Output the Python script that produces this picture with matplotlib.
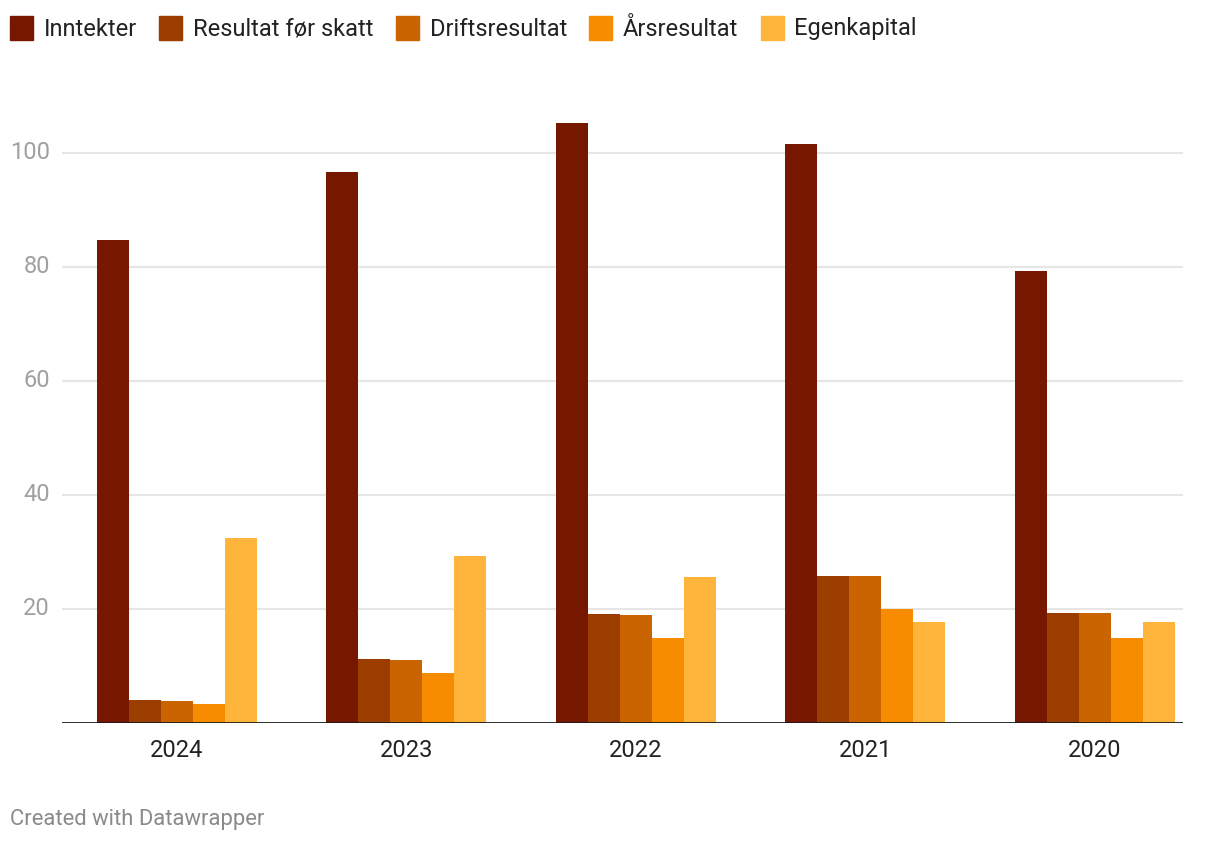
import matplotlib
matplotlib.use("Agg")
import matplotlib.pyplot as plt
from matplotlib.patches import Rectangle
import numpy as np

plt.rcParams['font.family'] = ['Roboto', 'DejaVu Sans']

years = ['2024', '2023', '2022', '2021', '2020']
series = ['Inntekter', 'Resultat før skatt', 'Driftsresultat', 'Årsresultat', 'Egenkapital']
colors = ['#761800', '#9c3d00', '#c96400', '#f88c00', '#ffb43c']

inntekter = [84.7, 96.7, 105.2, 101.5, 79.3]
resultat_for_skatt = [4.0, 11.1, 19.0, 25.7, 19.2]
driftsresultat = [3.7, 10.9, 18.8, 25.7, 19.2]
arsresultat = [3.2, 8.6, 14.8, 20.0, 14.9]
egenkapital = [32.3, 29.3, 25.5, 17.6, 17.6]
values = [inntekter, resultat_for_skatt, driftsresultat, arsresultat, egenkapital]

yticks = [20, 40, 60, 80, 100]

W, H = 1220, 844
fig = plt.figure(figsize=(W / 100, H / 100), dpi=100)

# axes placed in pixel coords: x 62..1183, y baseline 722.5, top ~96
ax_l, ax_r, ax_b, ax_t = 62, 1183, 722.5, 96
ax = fig.add_axes([ax_l / W, 1 - ax_b / H, (ax_r - ax_l) / W, (ax_b - ax_t) / H])

px_per_unit = 5.698
ax.set_ylim(0, (ax_b - ax_t) / px_per_unit)
ax.set_xlim(-0.5, 4.385)

bw = 0.1395
x = np.arange(len(years))
for i, (name, vals, c) in enumerate(zip(series, values, colors)):
    ax.bar(x + (i - 2) * bw, vals, width=bw, color=c, zorder=3, linewidth=0)

for t in yticks:
    ax.axhline(t, color='#e6e6e6', linewidth=1.5, zorder=1)
ax.axhline(0, color='#1a1a1a', linewidth=2, zorder=4)

for s in ax.spines.values():
    s.set_visible(False)
ax.set_yticks([])
ax.set_xticks(x)
ax.set_xticklabels(years, fontsize=17, color='#222222')
ax.tick_params(axis='x', length=0, pad=12)

# y tick labels right-aligned near left edge
for t in yticks:
    fig.text(50 / W, 1 - (ax_b - t * px_per_unit) / H, str(t), ha='right', va='center',
             fontsize=17, color='#a0a0a0')

# legend across the top
fig.canvas.draw()
renderer = fig.canvas.get_renderer()
xpos = 10
sq = 23
ycen = 28
for name, c in zip(series, colors):
    fig.patches.append(Rectangle((xpos / W, 1 - (ycen + sq / 2) / H), sq / W, sq / H,
                                 transform=fig.transFigure, color=c, figure=fig))
    txt = fig.text((xpos + sq + 11) / W, 1 - (ycen + 1) / H, name, ha='left', va='center',
                   fontsize=17, color='#222222')
    bb = txt.get_window_extent(renderer)
    xpos = xpos + sq + 11 + bb.width + 22

fig.text(10 / W, 1 - 820 / H, 'Created with Datawrapper', ha='left', va='center',
         fontsize=15.8, color='#8a8a8a')

fig.savefig('out.png', dpi=100)
